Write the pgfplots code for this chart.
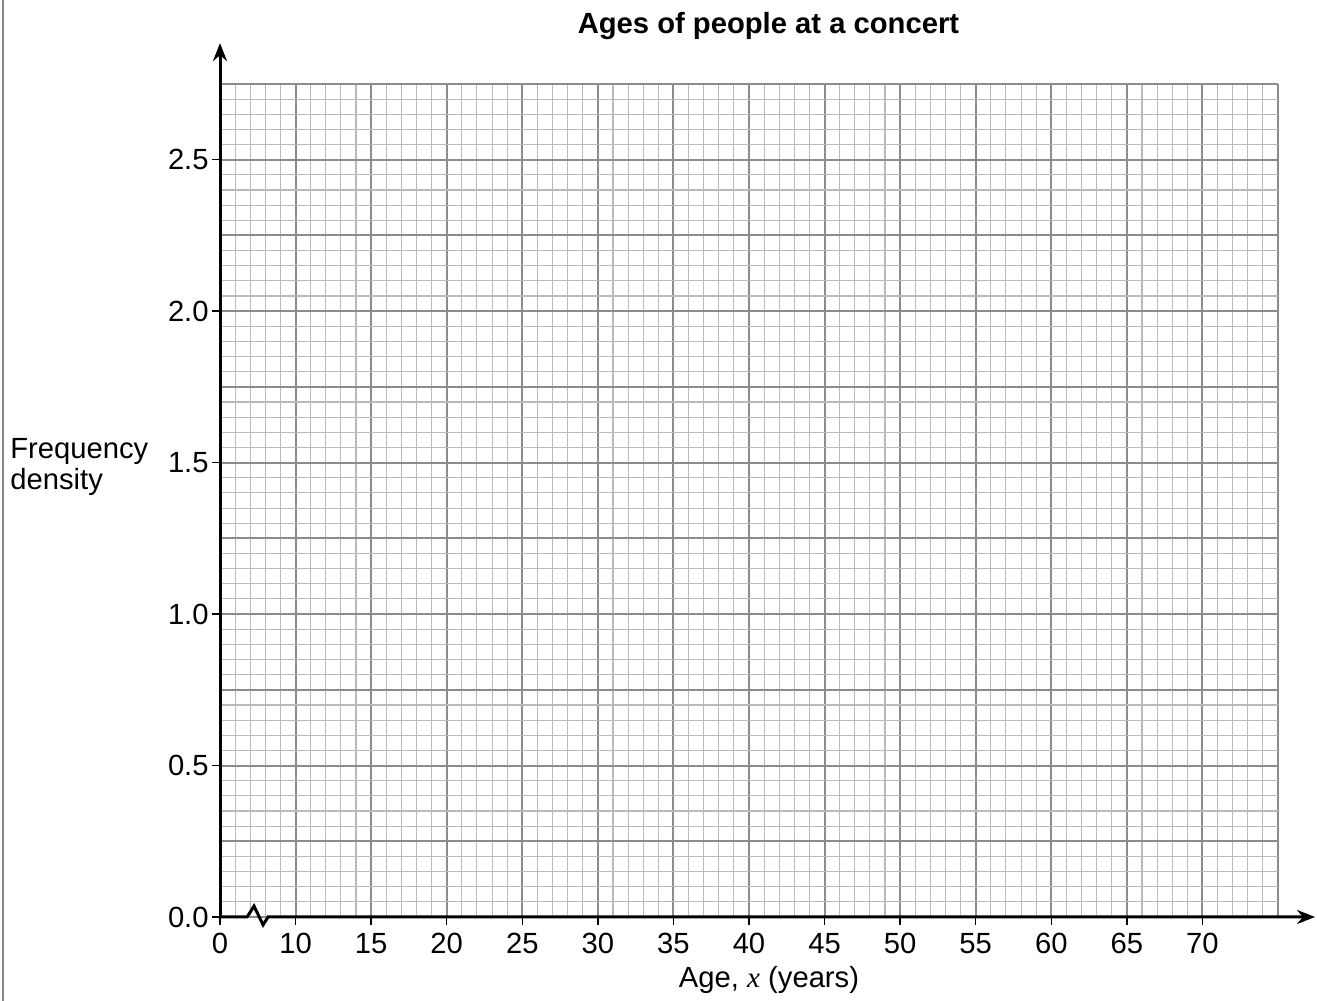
\documentclass[border=0pt]{standalone}
\usepackage{fontspec}
\setmainfont{Liberation Sans}
\newfontfamily\timesfont{Liberation Serif}
\usepackage{pgfplots}
\pgfplotsset{compat=1.18}
\usetikzlibrary{arrows.meta}

% 1 px of the reference = 0.5pt
\begin{document}
\begin{tikzpicture}
\begin{axis}[
  scale only axis,
  width=529pt, height=416.5pt,
  xmin=5, xmax=75, ymin=0, ymax=2.75,
  axis line style={draw=none},
  clip=false,
  xtick pos=bottom, ytick pos=left,
  xtick={5,10,...,75}, ytick={0,0.25,...,2.75},
  xticklabels={}, yticklabels={},
  minor x tick num=4, minor y tick num=4,
  major tick length=0pt, minor tick length=0pt,
  grid=both,
  major grid style={draw=black!45, line width=1pt},
  minor grid style={draw=black!27, line width=0.55pt},
  extra x ticks={5,10,...,70},
  extra x tick labels={0,10,15,20,25,30,35,40,45,50,55,60,65,70},
  extra y ticks={0,0.5,1,1.5,2,2.5},
  extra y tick labels={0.0,0.5,1.0,1.5,2.0,2.5},
  extra tick style={grid=none, major tick length=4pt, tick align=outside,
    tick style={draw=black, line width=0.75pt}},
  ticklabel style={font=\fontsize{14.6}{17}\selectfont},
  xticklabel style={inner sep=4pt},
  yticklabel style={inner sep=1.5pt},
]
% axes with the break near the origin
\draw[line width=1.5pt, -{Stealth[length=9pt,width=7pt]}]
  (axis cs:5,0) -- (axis cs:5,2.885);
\draw[line width=1.5pt, line join=miter, -{Stealth[length=9pt,width=7pt]}]
  (axis cs:5,0) -- (axis cs:6.79,0) -- (axis cs:7.25,0.036)
  -- (axis cs:7.85,-0.026) -- (axis cs:8.18,0) -- (axis cs:77.45,0);

\node[anchor=base, inner sep=0pt, font=\bfseries\fontsize{14.6}{17}\selectfont]
  at (rel axis cs:0.5184,1.0612) {Ages of people at a concert};
\node[anchor=base west, inner sep=0pt, font=\fontsize{14.6}{17}\selectfont]
  at (rel axis cs:-0.1985,0.5505) {Frequency};
\node[anchor=base west, inner sep=0pt, font=\fontsize{14.6}{17}\selectfont]
  at (rel axis cs:-0.1985,0.5135) {density};
\node[anchor=base, inner sep=0pt, font=\fontsize{14.6}{17}\selectfont]
  at (rel axis cs:0.5189,-0.0850) {Age, {\timesfont\itshape x} (years)};

% page edge line on the left
\draw[draw=black!47, line width=1pt]
  (rel axis cs:-0.2051,-0.10084) -- (rel axis cs:-0.2051,1.10084);

\coordinate (bbsw) at (rel axis cs:-0.20794,-0.10084);
\coordinate (bbne) at (rel axis cs:1.03686,1.10084);
\end{axis}
\pgfresetboundingbox
\path (bbsw) rectangle (bbne);
\end{tikzpicture}
\end{document}
